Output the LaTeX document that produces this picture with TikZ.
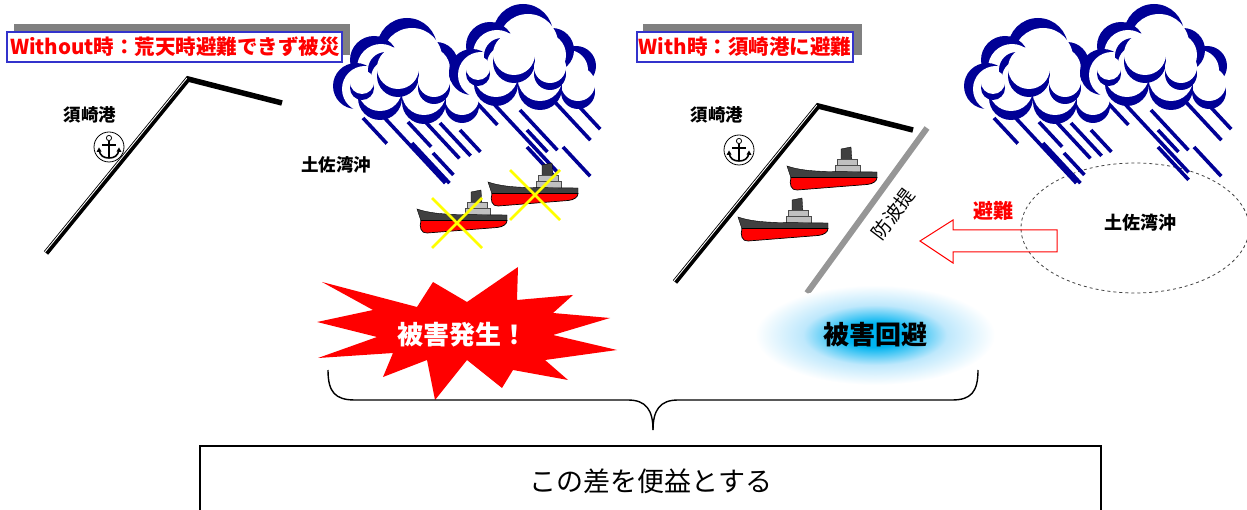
\documentclass[tikz,border=0pt]{standalone}
\usepackage{fontspec}
\setmainfont{Noto Sans CJK JP}
\definecolor{stormblue}{RGB}{0,0,150}
\definecolor{titlered}{RGB}{255,0,0}
\definecolor{titleblue}{RGB}{51,51,204}
\definecolor{shadowgray}{RGB}{128,128,128}
\definecolor{shipdark}{RGB}{64,64,64}
\definecolor{shiplight}{RGB}{192,192,192}
\definecolor{shipred}{RGB}{255,0,0}
\definecolor{wallgray}{RGB}{150,150,150}
\definecolor{glowcore}{RGB}{0,180,240}
\definecolor{glowmid}{RGB}{190,232,252}
\pgfdeclareradialshading{avoidglow}{\pgfpointorigin}{color(0bp)=(glowcore); color(6bp)=(glowcore); color(15bp)=(glowmid); color(25bp)=(white); color(50bp)=(white)}

% one puff of a storm cloud: navy disc, then a white disc shifted to leave a crescent
\newcommand\cloudpuff[5]{%
  \fill[stormblue] (#1,#2) circle (#3);
  \fill[white] ({#1+#4},{#2+#5}) circle (#3);}

\newcommand\stormcloud[2]{%
\begin{scope}[shift={(#1,#2)}]
  \fill[white] (78,62) ellipse (62 and 32);
  \cloudpuff{128}{62}{20}{-8}{4}
  \cloudpuff{104}{46}{22}{-8}{5}
  \cloudpuff{75}{30}{30}{5}{10}
  \cloudpuff{42}{42}{24}{7}{8}
  \cloudpuff{24}{68}{23}{9}{3}
  \cloudpuff{130}{88}{17}{0}{-8}
  \cloudpuff{92}{84}{22}{0}{-9}
  \cloudpuff{48}{80}{22}{0}{-9}
  \cloudpuff{54}{52}{18}{3}{8}
  \cloudpuff{66}{58}{21}{0}{-8}
  \cloudpuff{102}{70}{16}{0}{-7}
  \cloudpuff{30}{70}{12}{0}{-6}
\end{scope}}

\newcommand\rainstreak[3]{\draw[rain] (#1,#2) -- ++({0.68*#3},{0.73*#3});}

\newcommand\stormgroup[2]{%
\begin{scope}[shift={(#1,#2)}]
  \rainstreak{31}{100}{35}
  \rainstreak{48}{95}{96}
  \rainstreak{76}{104}{34}
  \rainstreak{73}{82}{80}
  \rainstreak{108}{105}{45}
  \rainstreak{80}{125}{55}
  \rainstreak{128}{112}{30}
  \rainstreak{101}{135}{30}
  \rainstreak{145}{85}{30}
  \rainstreak{161}{85}{95}
  \rainstreak{188}{92}{55}
  \rainstreak{195}{112}{30}
  \rainstreak{221}{82}{55}
  \rainstreak{241}{82}{40}
  \rainstreak{231}{129}{40}
  \rainstreak{195}{129}{45}
  \stormcloud{0}{0}
  \stormcloud{116}{-14}
\end{scope}}

\newcommand\drawship[2]{%
\begin{scope}[shift={(#1,#2)}]
  \filldraw[fill=shipdark, draw=black, line width=0.3] (54,2) -- (64,0) -- (65,14) -- (54,14) -- cycle;
  \filldraw[fill=shiplight, draw=gray!60!black, line width=0.4] (50,12) rectangle (70,19);
  \filldraw[fill=shiplight, draw=gray!60!black, line width=0.4] (48,18) rectangle (73,25);
  \filldraw[fill=shipdark, draw=black, line width=0.4] (0,19) .. controls (12,23) and (24,24) .. (40,24.5) -- (90,25) -- (90,31) -- (4,31) -- cycle;
  \filldraw[fill=shipred, draw=black, line width=0.7] (4,30.5) -- (90,30.5) .. controls (90,34) and (86,37) .. (80,37.5) -- (10,43) .. controls (4,43.5) and (2,37) .. (4,30.5) -- cycle;
\end{scope}}

\newcommand\anchormark[2]{%
\begin{scope}[shift={(#1,#2)}]
  \filldraw[fill=white, draw=black, line width=0.8] (0,0) circle (15);
  \draw[line width=0.8] (0,-9) circle (2.6);
  \draw[line width=1.8] (0,-6.4) -- (0,10);
  \draw[line width=1.6] (-7,-2) -- (7,-2);
  \draw[line width=1.6] (-10,3) .. controls (-9,9) and (-5,11) .. (0,11) .. controls (5,11) and (9,9) .. (10,3);
  \fill (-10,0.5) -- (-12.5,5) -- (-7.5,4.5) -- cycle;
  \fill (10,0.5) -- (12.5,5) -- (7.5,4.5) -- cycle;
\end{scope}}

\begin{document}
\begin{tikzpicture}[x=1pt, y=-1pt,
  rain/.style={stormblue, line width=3.6},
  coast/.style={line width=5.5, line join=miter},
  coastrim/.style={white, line width=0.9},
  shadowbar/.style={fill=shadowgray},
  titlebox/.style={draw=titleblue, line width=1.6, fill=white},
  titletext/.style={text=titlered, font=\fontsize{20.5}{24}\selectfont\bfseries, inner sep=0},
  placelabel/.style={font=\fontsize{17.5}{20}\selectfont\bfseries, inner sep=0},
  crossmark/.style={draw={rgb,255:red,255;green,255;blue,0}, line width=2.6},
  bigword/.style={font=\fontsize{26}{30}\selectfont\bfseries, inner sep=0},
  bracket/.style={line width=1.4}]
\useasboundingbox (0,0) rectangle (1247,510);
\clip (0,0) rectangle (1247,510);

% ---- left scene: coast of Susaki port ----
\draw[coast] (46,253) -- (188,79) -- (282,103);
\draw[coastrim] (44.8,252.2) -- (186.8,78.2);
\anchormark{109}{147}
\node[placelabel] (portL) at (90,115) {須崎港};
\node[placelabel] (bayL) at (336,165) {土佐湾沖};

% ---- right scene: coast, breakwater ----
\draw[coast] (675,282) -- (818,106) -- (913,130);
\draw[coastrim] (673.8,281.2) -- (816.8,105.2);
\draw[wallgray, line width=6] (807,293) -- (927,128);
\node[font=\fontsize{19}{22}\selectfont, rotate=53, inner sep=0] (wall) at (893,214) {防波提};
\anchormark{739}{150}
\node[placelabel] (portR) at (717,115) {須崎港};
\drawship{787}{147}
\drawship{738}{198}

% offshore area and evacuation arrow
\draw[dashed, line width=0.8, black!75] (1135,228) ellipse (114 and 65);
\draw[titlered, line width=1] (920,241) -- (953,220) -- (953,230) -- (1057,230) -- (1057,252) -- (953,252) -- (953,263) -- cycle;
\node[font=\fontsize{20}{22}\selectfont\bfseries, text=titlered, inner sep=0] (evac) at (993,211) {避難};
\node[placelabel, font=\fontsize{18}{20}\selectfont\bfseries] (bayR) at (1140,223) {土佐湾沖};

% ---- storms ----
\stormgroup{332}{18}
\stormgroup{963}{18}

% ---- ships caught offshore ----
\drawship{417}{190}
\drawship{488}{163}
\draw[crossmark] (432,198) -- (482,248) (432,248) -- (482,198);
\draw[crossmark] (510,170) -- (560,220) (510,220) -- (560,170);

% ---- outcome labels ----
\fill[titlered] (518,267) -- (517,300) -- (573,295) -- (553,313) -- (610,318) -- (553,335) -- (617,350) -- (545,360) -- (568,380) -- (513,370) -- (502,388) -- (467,360) -- (435,400) -- (427,360) -- (383,377) -- (393,353) -- (318,358) -- (377,337) -- (317,322) -- (373,310) -- (322,282) -- (417,307) -- (433,282) -- (467,302) -- cycle;
\node[bigword, text=white] (damage) at (462,335) {被害発生！};
\shade[shading=avoidglow] (875,335) ellipse (120 and 50);
\node[bigword] (avoid) at (875,335) {被害回避};

% ---- brace and conclusion ----
\draw[bracket] (328,370) .. controls (328,392) and (335,400) .. (355,400) -- (628,400) .. controls (646,400) and (653,410) .. (653,430);
\draw[bracket] (653,430) .. controls (653,410) and (660,400) .. (678,400) -- (952,400) .. controls (971,400) and (978,392) .. (978,370);
\draw[line width=1.4] (200,520) -- (200,446) -- (1101,446) -- (1101,520);
\node[font=\fontsize{27}{30}\selectfont, inner sep=0] (benefit) at (651,481) {この差を便益とする};

% ---- titles ----
\fill[shadowbar] (14,24) rectangle (350,55);
\filldraw[titlebox] (7,32) rectangle (342,62);
\node[titletext] (titleL) at (175,47) {Without時：荒天時避難できず被災};
\fill[shadowbar] (643,24) rectangle (862,55);
\filldraw[titlebox] (637,32) rectangle (853,62);
\node[titletext] (titleR) at (745,47) {With時：須崎港に避難};
\end{tikzpicture}
\end{document}
